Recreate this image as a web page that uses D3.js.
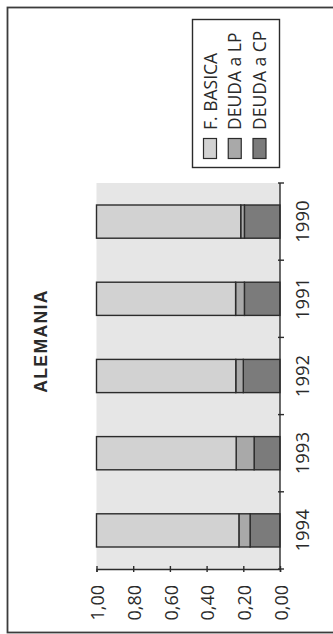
<!DOCTYPE html>
<html>
<head>
<meta charset="utf-8">
<script src="https://cdn.jsdelivr.net/npm/d3@7"></script>
<style>
  html, body { margin: 0; padding: 0; background: #fff; }
  svg { display: block; }
  text { font-family: "Open Sans", sans-serif; fill: #2a2a2a; }
</style>
</head>
<body>
<svg id="chart" width="333" height="634"></svg>
<script>
// Financing structure of Germany, shares of total (stacked to 1,00)
const years   = ["1990", "1991", "1992", "1993", "1994"];
const basica  = [0.786, 0.758, 0.759, 0.761, 0.776];   // F. BASICA
const deudaLP = [0.020, 0.048, 0.041, 0.098, 0.061];   // DEUDA a LP
const deudaCP = [0.194, 0.194, 0.200, 0.141, 0.163];   // DEUDA a CP
const valueTicks = [0, 0.2, 0.4, 0.6, 0.8, 1.0];
const seriesNames = ["F. BASICA", "DEUDA a LP", "DEUDA a CP"];
const seriesColors = ["#d2d2d2", "#a9a9a9", "#7b7b7b"];
const title = "ALEMANIA";

const rows = years.map((y, i) => ({ year: y, cp: deudaCP[i], lp: deudaLP[i], basica: basica[i] }));

const svg = d3.select("#chart");
const locale = d3.formatLocale({ decimal: ",", thousands: ".", grouping: [3], currency: ["", " €"] });
const fmt = locale.format(".2f");

// page frame
svg.append("rect")
  .attr("x", 7.5).attr("y", 7.5).attr("width", 340).attr("height", 625)
  .attr("fill", "none").attr("stroke", "#3c3c3c").attr("stroke-width", 1.8);

// the chart is laid out sideways: values run right-to-left, years top-to-bottom
const x = d3.scaleLinear().domain([0, 1]).range([280, 96.5]);
const y = d3.scaleBand().domain(years).range([183, 569]).paddingInner(0.57).paddingOuter(0.285);

// plot background
svg.append("rect")
  .attr("x", x(1)).attr("y", y.range()[0])
  .attr("width", x(0) - x(1)).attr("height", y.range()[1] - y.range()[0])
  .attr("fill", "#e6e6e6");

// stacked bars (CP at the base, then LP, then F. BASICA)
const keys = ["cp", "lp", "basica"];
const colorOf = { basica: seriesColors[0], lp: seriesColors[1], cp: seriesColors[2] };
const stack = d3.stack().keys(keys)(rows);

svg.append("g").selectAll("g")
  .data(stack)
  .join("g")
  .attr("fill", d => colorOf[d.key])
  .selectAll("rect")
  .data(d => d)
  .join("rect")
  .attr("x", d => x(d[1]))
  .attr("width", d => x(d[0]) - x(d[1]))
  .attr("y", d => y(d.data.year))
  .attr("height", y.bandwidth())
  .attr("stroke", "#2b2b2b")
  .attr("stroke-width", 1.4);

// value axis
const xAxis = svg.append("g")
  .attr("transform", `translate(0,${y.range()[1]})`)
  .call(d3.axisBottom(x).tickValues(valueTicks).tickFormat(fmt).tickSizeOuter(0).tickSize(3));
xAxis.select(".domain").attr("stroke", "#2b2b2b").attr("stroke-width", 1.4);
xAxis.selectAll(".tick line").attr("y1", -3).attr("y2", 3).attr("stroke", "#2b2b2b").attr("stroke-width", 1.4);
xAxis.selectAll(".tick text")
  .attr("font-family", "Open Sans, sans-serif")
  .attr("font-size", 18)
  .attr("fill", "#2a2a2a")
  .attr("text-anchor", "end")
  .attr("transform", "translate(1,16) rotate(-90)")
  .attr("x", 0).attr("y", 0).attr("dy", "0.35em");

// category axis (ticks at band boundaries, labels centred on bands)
const yAxis = svg.append("g").attr("transform", `translate(${x(0)},0)`);
yAxis.append("line")
  .attr("y1", y.range()[0]).attr("y2", y.range()[1])
  .attr("stroke", "#2b2b2b").attr("stroke-width", 1.4);
const bounds = d3.range(years.length + 1).map(i => y.range()[0] + i * y.step());
yAxis.selectAll(".bt").data(bounds).join("line")
  .attr("class", "bt")
  .attr("x1", -2).attr("x2", 4)
  .attr("y1", d => d).attr("y2", d => d)
  .attr("stroke", "#2b2b2b").attr("stroke-width", 1.4);
yAxis.selectAll(".yl").data(years).join("text")
  .attr("class", "yl")
  .attr("font-size", 18.5)
  .attr("text-anchor", "middle")
  .attr("transform", d => `translate(23,${y(d) + y.bandwidth() / 2}) rotate(-90)`)
  .attr("dy", "0.35em")
  .text(d => d);

// title
svg.append("text")
  .attr("transform", `translate(40.5,341) rotate(-90)`)
  .attr("text-anchor", "middle")
  .attr("dy", "0.35em")
  .style("font-family", "'Liberation Sans', Arial, sans-serif")
  .style("font-weight", "bold")
  .style("font-size", "17.5px")
  .style("letter-spacing", "1.4px")
  .text(title);

// legend
const legend = svg.append("g");
legend.append("rect")
  .attr("x", 192.5).attr("y", 19.5).attr("width", 87).attr("height", 148)
  .attr("fill", "#fff").attr("stroke", "#2b2b2b").attr("stroke-width", 1.4);
const legendX = d3.scalePoint().domain(seriesNames).range([210, 259.5]);
legend.selectAll(".sw").data(seriesNames).join("rect")
  .attr("class", "sw")
  .attr("x", d => legendX(d) - 6.5).attr("y", 138.5)
  .attr("width", 13).attr("height", 20)
  .attr("fill", (d, i) => seriesColors[i])
  .attr("stroke", "#2b2b2b").attr("stroke-width", 1.2);
legend.selectAll(".lt").data(seriesNames).join("text")
  .attr("class", "lt")
  .attr("font-size", 17.5)
  .attr("text-anchor", "start")
  .attr("transform", d => `translate(${legendX(d) + 0.5},130) rotate(-90)`)
  .attr("dy", "0.35em")
  .text(d => d);
</script>
</body>
</html>
